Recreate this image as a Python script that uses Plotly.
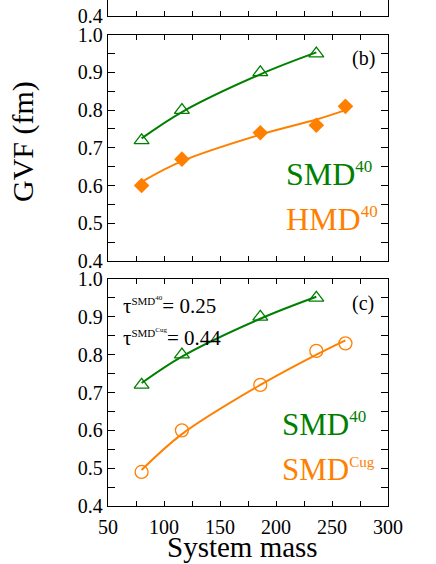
import plotly.graph_objects as go

# ---- data ----
mass_smd40 = [80, 116, 186, 236]
gvf_smd40 = [0.72, 0.80, 0.90, 0.95]
fit_smd40 = [0.725, 0.795, 0.895, 0.953]

mass_5 = [80, 116, 186, 236, 262]
gvf_hmd40 = [0.60, 0.67, 0.74, 0.76, 0.81]
fit_hmd40 = [0.61, 0.665, 0.735, 0.775, 0.80]

gvf_smdcug = [0.49, 0.60, 0.72, 0.81, 0.83]
fit_smdcug = [0.495, 0.59, 0.72, 0.80, 0.838]

y_ticks = [0.4, 0.5, 0.6, 0.7, 0.8, 0.9, 1.0]
x_ticks = [50, 100, 150, 200, 250, 300]

GREEN = "#008000"
ORANGE = "#FF8000"
FONT = "Liberation Serif"

fig = go.Figure()

# empty placeholder so the (cut-off) top panel (a) exists
fig.add_trace(go.Scatter(x=[None], y=[None], mode="markers", xaxis="x", yaxis="y", showlegend=False))

def add_panel(xa, ya, orange_fit, orange_pts, orange_symbol):
    fig.add_trace(go.Scatter(x=mass_smd40, y=fit_smd40, mode="lines", xaxis=xa, yaxis=ya,
                             line=dict(color=GREEN, width=2, shape="spline"), showlegend=False))
    fig.add_trace(go.Scatter(x=mass_smd40, y=gvf_smd40, mode="markers", xaxis=xa, yaxis=ya,
                             marker=dict(symbol="triangle-up-open", size=13, color=GREEN,
                                         line=dict(width=1.3, color=GREEN)), showlegend=False))
    fig.add_trace(go.Scatter(x=mass_5, y=orange_fit, mode="lines", xaxis=xa, yaxis=ya,
                             line=dict(color=ORANGE, width=2, shape="spline"), showlegend=False))
    if orange_symbol == "diamond":
        mk = dict(symbol="diamond", size=12, color=ORANGE, line=dict(width=0))
    else:
        mk = dict(symbol="circle-open", size=13, color=ORANGE, line=dict(width=1.3, color=ORANGE))
    fig.add_trace(go.Scatter(x=mass_5, y=orange_pts, mode="markers", xaxis=xa, yaxis=ya,
                             marker=mk, showlegend=False))

add_panel("x2", "y2", fit_hmd40, gvf_hmd40, "diamond")
add_panel("x3", "y3", fit_smdcug, gvf_smdcug, "circle")

tickfont = dict(family=FONT, size=20, color="black")

def xax(domain_anchor, show_labels, mirror):
    return dict(range=[50, 300], anchor=domain_anchor, showline=True, linecolor="black", linewidth=1.3,
                mirror=mirror, ticks="inside", ticklen=5, tickwidth=1, tickcolor="black",
                tickvals=x_ticks, showticklabels=show_labels, tickfont=tickfont, ticklabelstandoff=3,
                minor=dict(dtick=25, tick0=50, ticks="inside", ticklen=5, tickcolor="black"),
                showgrid=False, zeroline=False, fixedrange=True, automargin=False)

def yax(domain, rng, anchor):
    return dict(range=rng, domain=domain, anchor=anchor, showline=True, linecolor="black", linewidth=1.3,
                mirror="ticks", ticks="inside", ticklen=7, tickwidth=1, tickcolor="black",
                tickvals=y_ticks, ticktext=[f"{v:.1f}" for v in y_ticks], tickfont=tickfont,
                minor=dict(dtick=0.05, tick0=0.4, ticks="inside", ticklen=7, tickcolor="black"),
                showgrid=False, zeroline=False, fixedrange=True, automargin=False)

H = 506.0
def py(p):
    return (H - p) / H

fig.update_layout(
    width=436, height=564,
    margin=dict(l=108, r=48, t=0, b=58, autoexpand=False),
    paper_bgcolor="white", plot_bgcolor="white",
    xaxis=xax("y", False, False),
    yaxis=yax([py(15.7), 1.0], [0.4, 0.4416], "x"),
    xaxis2=xax("y2", False, "ticks"),
    yaxis2=yax([py(261), py(34.7)], [0.4, 1.0], "x2"),
    xaxis3=xax("y3", True, "ticks"),
    yaxis3=yax([0, py(279)], [0.4, 1.0], "x3"),
)

ann = []
def a(text, x, y, xref, yref, size, color="black", xanchor="left", yanchor="middle", angle=0):
    ann.append(dict(text=text, x=x, y=y, xref=xref, yref=yref, showarrow=False,
                    font=dict(family=FONT, size=size, color=color),
                    xanchor=xanchor, yanchor=yanchor, textangle=angle))

def sup(t, px):
    return f"<sup><span style='font-size:{px}px'>{t}</span></sup>"

a("(b)", 277.7, 0.938, "x2", "y2", 20, xanchor="center")
a("(c)", 277.7, 0.936, "x3", "y3", 20, xanchor="center")
a("SMD" + sup("40", 17), 207, 0.630, "x2", "y2", 32, GREEN)
a("HMD" + sup("40", 17), 207, 0.512, "x2", "y2", 32, ORANGE)
a("SMD" + sup("40", 17), 204, 0.616, "x3", "y3", 31, GREEN)
a("SMD" + sup("Cug", 15), 204, 0.497, "x3", "y3", 31, ORANGE)
a("τ" + sup("SMD" + sup("40", 7), 11) + "= 0.25", 62, 0.928, "x3", "y3", 21)
a("τ" + sup("SMD" + sup("Cug", 7), 11) + "= 0.44", 62, 0.843, "x3", "y3", 21)
a("GVF (fm)", (23 - 108) / 280, py(142), "paper", "paper", 30, xanchor="center", yanchor="middle", angle=-90)
a("System mass", 0.4786, py(547), "paper", "paper", 29, xanchor="center", yanchor="middle")
fig.update_layout(annotations=ann)

fig.write_html("out.html", config={"displayModeBar": False},
               post_script="document.body.style.margin='0';document.body.style.padding='0';")
